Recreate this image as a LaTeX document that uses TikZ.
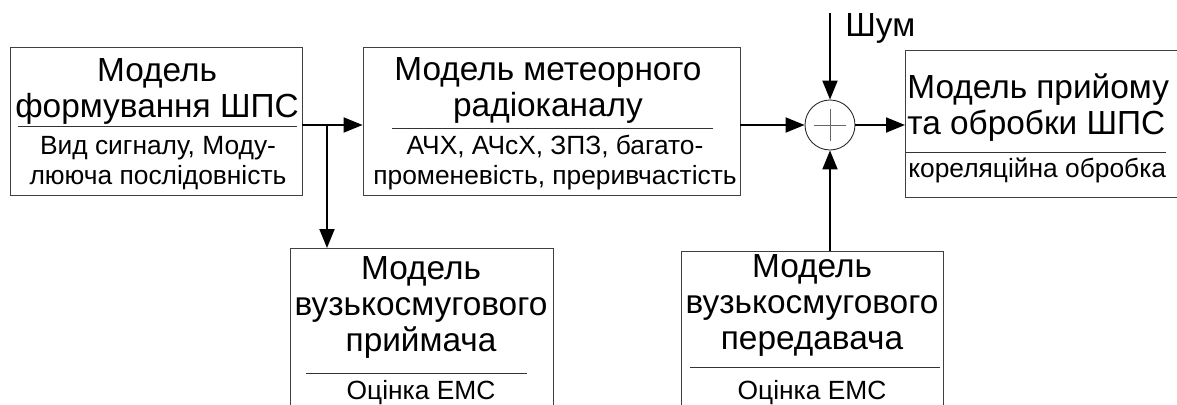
\documentclass[tikz,border=0pt]{standalone}
\usepackage{fontspec}
\setmainfont{Liberation Sans}
\usetikzlibrary{arrows.meta, positioning, calc}

\begin{document}
\begin{tikzpicture}[
    x=0.02cm, y=-0.02cm,
    box/.style={draw=black!75, rectangle, inner sep=0pt, line width=0.5pt},
    sumnode/.style={draw=black!85, circle, minimum size=1cm, inner sep=0pt, line width=0.5pt},
    head/.style={font=\fontsize{19}{20.5}\selectfont, align=center, inner sep=0pt},
    note/.style={font=\fontsize{15}{17}\selectfont, align=center, inner sep=0pt},
    sep/.style={draw=black!80, line width=0.5pt},
    arrow/.style={line width=1.1pt, -{Triangle[length=0.38cm,width=0.3cm]}}
]
\clip (0,0) rectangle (1177,405);
% blocks
\node[box, minimum width=5.84cm, minimum height=2.96cm] (form) at (156,121) {};
\node[box, minimum width=7.54cm, minimum height=2.96cm] (chan) at (551.5,121) {};
\node[sumnode] (sum) at (830,125) {};
\node[box, minimum width=5.7cm, minimum height=2.94cm, anchor=north west] (recv) at (905,50) {};
\node[box, minimum width=5.26cm, minimum height=4cm, anchor=north west] (nbrx) at (290,248) {};
\node[box, minimum width=5.24cm, minimum height=4cm, anchor=north west] (nbtx) at (681,251) {};
% texts
\node[head] (formt) at (157,91) {Модель\\формування ШПС};
\node[note] (formn) at (158,163) {Вид сигналу, Моду-\\лююча послідовність};
\node[head] (chant) at (548,90) {Модель метеорного\\радіоканалу};
\node[note] (chann) at (555,163) {АЧХ, АЧсХ, ЗПЗ, багато-\\променевість, преривчастість};
\node[head, align=left, anchor=west] (recvt) at (907,108) {Модель прийому\\та обробки ШПС};
\node[note, anchor=west] (recvn) at (908,170) {кореляційна обробка};
\node[head] (nbrxt) at (421,307) {Модель\\вузькосмугового\\приймача};
\node[note] (nbrxn) at (421,393) {Оцінка ЕМС};
\node[head] (nbtxt) at (812,305) {Модель\\вузькосмугового\\передавача};
\node[note] (nbtxn) at (812,393) {Оцінка ЕМС};
% separators
\draw[sep] (18,126) -- (297,126);
\draw[sep] (392,128) -- (713,128);
\draw[sep] (905,152) -- (1166,152);
\draw[sep] (306,373) -- (527,373);
\draw[sep] (690,367) -- (940,367);
% plus sign
\draw[black!60] ($(sum)+(-16,0)$) -- ($(sum)+(16,0)$);
\draw[black!60] ($(sum)+(0,-16)$) -- ($(sum)+(0,16)$);
% connectors
\coordinate (br) at (327,125);
\coordinate (noise) at (830,13);
\draw[arrow] (form.east |- sum) -- (chan.west |- sum);
\draw[arrow] (br) -- (nbrx.north -| br);
\draw[arrow] (chan.east |- sum) -- (sum.west);
\draw[arrow] (sum.east) -- (recv.west |- sum);
\draw[arrow] (noise) -- (sum.north);
\draw[arrow] (nbtx.north -| sum) -- (sum.south);
\node[head, anchor=west] (noiset) at (845,28) {Шум};
\end{tikzpicture}
\end{document}
